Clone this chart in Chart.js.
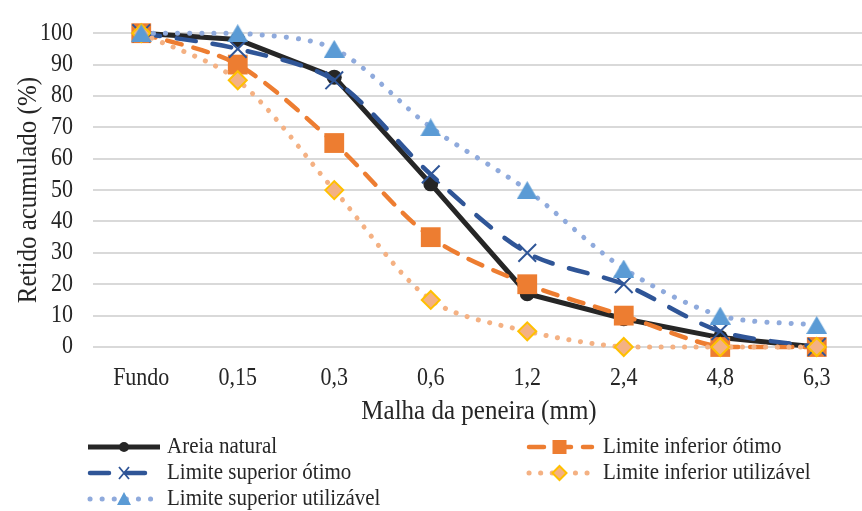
<!DOCTYPE html>
<html>
<head>
<meta charset="utf-8">
<script src="https://cdn.jsdelivr.net/npm/chart.js@4/dist/chart.umd.min.js"></script>
<style>
  html, body { margin: 0; padding: 0; overflow: hidden; background: #ffffff; }
  #wrap { width: 880px; height: 511px; }
</style>
</head>
<body>
<div id="wrap"><canvas id="grafico" width="880" height="511"></canvas></div>
<script>
// Peneiras (mm) e porcentagens retidas acumuladas
const categorias = ['Fundo', '0,15', '0,3', '0,6', '1,2', '2,4', '4,8', '6,3'];
const yTicks = [0, 10, 20, 30, 40, 50, 60, 70, 80, 90, 100];

const areiaNatural       = [100, 98, 86, 52, 17, 9, 3, 0];
const limInferiorOtimo   = [100, 90, 65, 35, 20, 10, 0, 0];
const limSuperiorOtimo   = [100, 95, 85, 55, 30, 20, 5, 0];
const limInferiorUtil    = [100, 85, 50, 15, 5, 0, 0, 0];
const limSuperiorUtil    = [100, 100, 95, 70, 50, 25, 10, 7];

const nomes = [
  'Areia natural',
  'Limite inferior ótimo',
  'Limite superior ótimo',
  'Limite inferior utilizável',
  'Limite superior utilizável'
];

const FONTE = "'Liberation Serif', 'Times New Roman', serif";
const TEXTO = '#262626';
const ALTURA_TEXTO = 1.12; // glifos um pouco mais altos que o normal

// Triângulo centrado pela caixa (estilo de marcador do Excel)
function triangulo(w, h, cor) {
  const c = document.createElement('canvas');
  c.width = w; c.height = h;
  const g = c.getContext('2d');
  g.fillStyle = cor;
  g.beginPath();
  g.moveTo(w / 2, 0);
  g.lineTo(w, h);
  g.lineTo(0, h);
  g.closePath();
  g.fill();
  return c;
}

const marcadorTriangulo = triangulo(21, 18, '#5b9bd5');

const datasets = [
  {
    label: nomes[0], data: areiaNatural,
    borderColor: '#262626', borderWidth: 5, tension: 0,
    pointStyle: 'circle', pointRadius: 7.5, pointBackgroundColor: '#262626',
    pointBorderColor: '#262626', pointBorderWidth: 0, order: 5
  },
  {
    label: nomes[1], data: limInferiorOtimo,
    borderColor: '#ed7d31', borderWidth: 4.5, borderDash: [15, 12], borderCapStyle: 'round',
    tension: 0.3,
    pointStyle: 'rect', pointRadius: 14, pointBackgroundColor: '#ed7d31',
    pointBorderColor: '#ed7d31', pointBorderWidth: 0, order: 4
  },
  {
    label: nomes[2], data: limSuperiorOtimo,
    borderColor: '#2f5597', borderWidth: 4.5, borderDash: [19, 17], borderCapStyle: 'round',
    tension: 0.3,
    pointStyle: 'crossRot', pointRadius: 12.5, pointBackgroundColor: '#2f5597',
    pointBorderColor: '#2f5597', pointBorderWidth: 2, order: 3
  },
  {
    label: nomes[3], data: limInferiorUtil,
    borderColor: '#f4b183', borderWidth: 5, borderDash: [0.1, 11.5], borderCapStyle: 'round',
    tension: 0.3,
    pointStyle: 'rectRot', pointRadius: 9, pointBackgroundColor: '#f4b183',
    pointBorderColor: '#ffc000', pointBorderWidth: 2, order: 2
  },
  {
    label: nomes[4], data: limSuperiorUtil,
    borderColor: '#8faadc', borderWidth: 5, borderDash: [0.1, 12], borderCapStyle: 'round',
    tension: 0.3,
    pointStyle: marcadorTriangulo, pointRadius: 10, order: 1
  }
].map(d => Object.assign({ fill: false, clip: false, pointHoverRadius: d.pointRadius }, d));

// Legenda em duas colunas, desenhada abaixo do eixo
function marcadorLegenda(ctx, i, x, y) {
  ctx.save();
  ctx.setLineDash([]);
  if (i === 0) {
    ctx.fillStyle = '#262626';
    ctx.beginPath(); ctx.arc(x, y, 5, 0, Math.PI * 2); ctx.fill();
  } else if (i === 1) {
    ctx.fillStyle = '#ed7d31';
    ctx.fillRect(x - 7, y - 7, 14, 14);
  } else if (i === 2) {
    ctx.strokeStyle = '#2f5597'; ctx.lineWidth = 1.8;
    ctx.beginPath();
    ctx.moveTo(x - 5, y - 6); ctx.lineTo(x + 5, y + 6);
    ctx.moveTo(x + 5, y - 6); ctx.lineTo(x - 5, y + 6);
    ctx.stroke();
  } else if (i === 3) {
    ctx.fillStyle = '#f4b183'; ctx.strokeStyle = '#ffc000'; ctx.lineWidth = 2;
    ctx.beginPath();
    ctx.moveTo(x, y - 7); ctx.lineTo(x + 7, y); ctx.lineTo(x, y + 7); ctx.lineTo(x - 7, y);
    ctx.closePath(); ctx.fill(); ctx.stroke();
  } else {
    ctx.fillStyle = '#5b9bd5';
    ctx.beginPath();
    ctx.moveTo(x, y - 7); ctx.lineTo(x + 7, y + 6); ctx.lineTo(x - 7, y + 6);
    ctx.closePath(); ctx.fill();
  }
  ctx.restore();
}

// Texto com glifos levemente alongados na vertical
const textoAlto = {
  id: 'textoAlto',
  beforeDraw(chart) {
    const ctx = chart.ctx;
    if (ctx.__textoAlto) return;
    const original = ctx.fillText;
    ctx.fillText = function (txt, x, y, maxWidth) {
      this.save();
      this.translate(x, y);
      this.scale(1, ALTURA_TEXTO);
      if (maxWidth === undefined) original.call(this, txt, 0, 0);
      else original.call(this, txt, 0, 0, maxWidth);
      this.restore();
    };
    ctx.__textoAlto = true;
  }
};

const legendaPlugin = {
  id: 'legendaColunas',
  afterDraw(chart) {
    const ctx = chart.ctx;
    const colunas = [{ x0: 88, x1: 160, tx: 167 }, { x0: 527, x1: 592, tx: 603 }];
    const linhas = [447, 473, 499];
    const posicoes = [[0, 0], [1, 0], [0, 1], [1, 1], [0, 2]];
    chart.data.datasets.forEach((ds, i) => {
      const col = colunas[posicoes[i][0]];
      const y = linhas[posicoes[i][1]];
      ctx.save();
      ctx.strokeStyle = ds.borderColor;
      ctx.lineWidth = ds.borderWidth;
      ctx.lineCap = ds.borderCapStyle || 'butt';
      ctx.setLineDash(ds.borderDash || []);
      ctx.beginPath();
      ctx.moveTo(col.x0 + (ds.borderDash ? 2 : 0), y);
      ctx.lineTo(col.x1, y);
      ctx.stroke();
      ctx.restore();
      marcadorLegenda(ctx, i, (col.x0 + col.x1) / 2, y);
      ctx.save();
      ctx.fillStyle = TEXTO;
      ctx.font = '21px ' + FONTE;
      ctx.textBaseline = 'middle';
      ctx.textAlign = 'left';
      ctx.fillText(ds.label, col.tx, y);
      ctx.restore();
    });
  }
};

new Chart(document.getElementById('grafico'), {
  type: 'line',
  data: { labels: categorias, datasets },
  options: {
    responsive: false,
    animation: false,
    events: [],
    layout: { padding: { top: 21, right: 5, bottom: 84, left: 0 } },
    plugins: { legend: { display: false }, tooltip: { enabled: false } },
    scales: {
      x: {
        type: 'category',
        offset: true,
        grid: { display: false, drawTicks: false },
        border: { display: false },
        ticks: {
          autoSkip: false, maxRotation: 0, padding: 18,
          color: TEXTO, font: { family: FONTE, size: 22 }
        },
        title: {
          display: true, text: 'Malha da peneira (mm)', color: TEXTO,
          font: { family: FONTE, size: 25 }, padding: { top: 0, bottom: 0 }
        },
        afterFit(s) { s.height = 80; }
      },
      y: {
        min: 0, max: 100,
        afterBuildTicks(s) { s.ticks = yTicks.map(v => ({ value: v })); },
        grid: { color: '#d9d9d9', lineWidth: 2, drawTicks: false },
        border: { display: false },
        ticks: {
          padding: 20, color: TEXTO, font: { family: FONTE, size: 22 }
        },
        title: {
          display: true, text: 'Retido acumulado (%)', color: TEXTO,
          font: { family: FONTE, size: 25 }, padding: { top: 14, bottom: 0 }
        },
        afterFit(s) { s.width = 93; }
      }
    }
  },
  plugins: [textoAlto, legendaPlugin]
});
</script>
</body>
</html>
